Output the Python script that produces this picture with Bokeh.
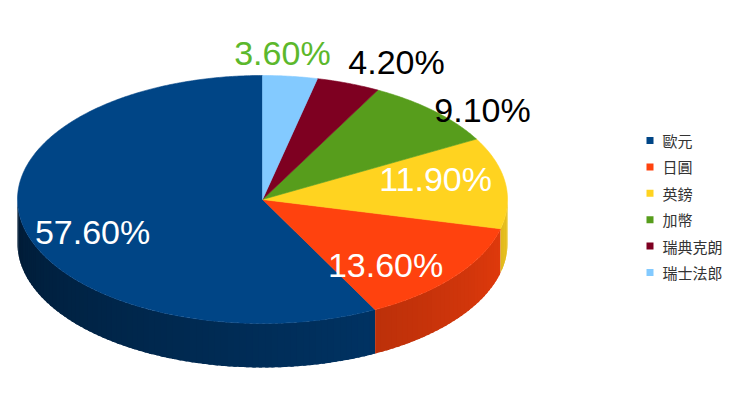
import numpy as np
from bokeh.plotting import figure
from bokeh.models import Range1d
from bokeh.core.properties import value
from bokeh.embed import file_html
from bokeh.resources import INLINE

# ---- data ----
currencies = ["歐元", "日圓", "英鎊", "加幣", "瑞典克朗", "瑞士法郎"]
shares = [57.6, 13.6, 11.9, 9.1, 4.2, 3.6]
colors = ["#004586", "#ff420e", "#ffd320", "#579d1c", "#7e0021", "#83caff"]

# ---- label style/placement (radial factors relative to slice mid-angle) ----
label_colors = ["white", "white", "white", "black", "black", "#5cb82c"]
label_kx = [0.714, 0.639, 0.713, 1.282, 1.56, 0.72]
label_ky = [1.16, 0.887, 1.08, 0.994, 1.163, 1.169]

# ---- geometry (canvas units == pixels) ----
W, H = 724, 400
CX, CY = 262, 201
RX, RY, DEPTH = 245, 124, 44
START = 90.0


def shade(hex_color, f):
    r = int(hex_color[1:3], 16); g = int(hex_color[3:5], 16); b = int(hex_color[5:7], 16)
    return "#%02x%02x%02x" % (int(r * f), int(g * f), int(b * f))


def ex(t):
    return CX + RX * np.cos(np.radians(t))


def ey(t):
    return CY + RY * np.sin(np.radians(t))


total = float(sum(shares))
bounds = [START]
for s in shares:
    bounds.append(bounds[-1] + 360.0 * s / total)

p = figure(width=W, height=H, output_backend="svg", toolbar_location=None,
           x_range=Range1d(0, W), y_range=Range1d(0, H), min_border=0)
p.axis.visible = False
p.grid.visible = False
p.outline_line_color = None
p.background_fill_color = "white"
p.border_fill_color = "white"

# side faces (visible where the angle lies between 180 and 360 deg)
sxs, sys_, scol = [], [], []
for i in range(len(shares)):
    a, b = bounds[i], bounds[i + 1]
    lo, hi = max(a, 180.0), min(b, 360.0)
    if hi <= lo:
        continue
    n = max(2, int(np.ceil((hi - lo) / 1.5)))
    ts = np.linspace(lo, hi, n + 1)
    for t0, t1 in zip(ts[:-1], ts[1:]):
        tm = 0.5 * (t0 + t1)
        f = 0.40 + 0.52 * (tm - 180.0) / 180.0
        t1e = min(t1 + 0.8, hi)
        tt = np.linspace(t0, t1e, 4)
        xs_top = list(ex(tt)); ys_top = list(ey(tt))
        sxs.append(xs_top + xs_top[::-1])
        sys_.append(ys_top + [y - DEPTH for y in ys_top[::-1]])
        scol.append(shade(colors[i], f))
p.patches(sxs, sys_, fill_color=scol, line_color=None)

# top faces
txs, tys = [], []
for i in range(len(shares)):
    a, b = bounds[i], bounds[i + 1]
    ts = np.linspace(a, b, max(3, int((b - a) / 0.5)))
    txs.append([CX] + list(ex(ts)))
    tys.append([CY] + list(ey(ts)))
p.patches(txs, tys, fill_color=colors, line_color=colors, line_width=0.6)

# percentage labels
lx, ly, lt = [], [], []
for i, s in enumerate(shares):
    mid = 0.5 * (bounds[i] + bounds[i + 1])
    lx.append(CX + label_kx[i] * RX * np.cos(np.radians(mid)))
    ly.append(CY + label_ky[i] * RY * np.sin(np.radians(mid)) + 2)
    lt.append("%.2f%%" % s)
p.text(x=lx, y=ly, text=lt, text_color=label_colors, text_font=value("Liberation Sans"),
       text_font_size="34px", text_align="center", text_baseline="alphabetic")

# legend
leg_y = [H - 140 - 26.4 * i for i in range(len(currencies))]
p.rect(x=[649.5] * len(currencies), y=leg_y, width=7, height=7,
       fill_color=colors, line_color=None)
p.text(x=[662] * len(currencies), y=leg_y, text=currencies, text_color="#333333",
       text_font=value("Noto Sans CJK TC"), text_font_size="15px",
       text_align="left", text_baseline="middle")

open("out.html", "w").write(file_html(p, INLINE))
